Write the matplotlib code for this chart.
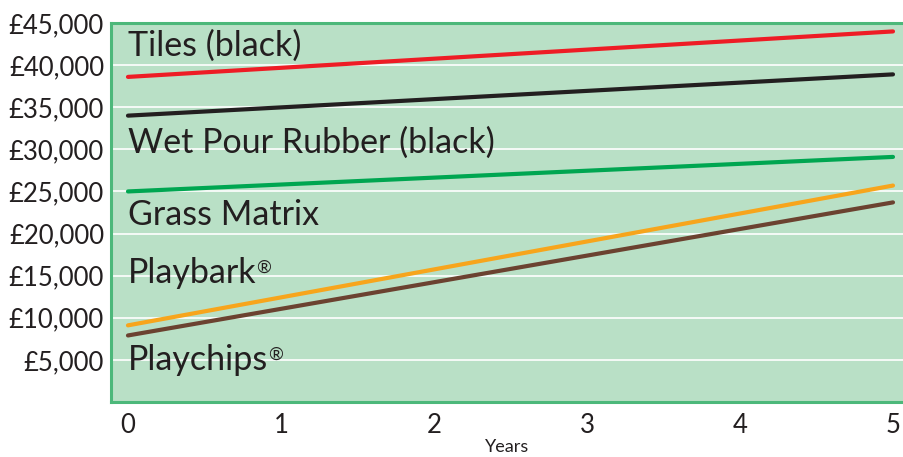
import matplotlib.pyplot as plt
from matplotlib.ticker import FuncFormatter

years = [0, 5]
tiles = [38600, 44000]
wet_pour = [34000, 38900]
grass = [25000, 29100]
playbark = [9100, 25700]
playchips = [7900, 23700]

names = ['Tiles (black)', 'Wet Pour Rubber (black)', 'Grass Matrix',
         'Playbark', 'Playchips']
registered = [False, False, False, True, True]
label_y = [41100, 29600, 21000, 14100, 3800]
colors = ['#ee1c25', '#231f20', '#00a651', '#f7a51c', '#6b4230']

plt.rcParams['font.family'] = ['Lato', 'DejaVu Sans']

fig = plt.figure(figsize=(9.04, 4.57), dpi=100)
ax = fig.add_axes([111/904, 55/457, 793/904, 379/457])
ax.set_facecolor('#b9e0c6')

for s, c in zip([tiles, wet_pour, grass, playbark, playchips], colors):
    ax.plot(years, s, color=c, lw=3, solid_capstyle='round', zorder=3)

for n, yy, r in zip(names, label_y, registered):
    t = ax.text(0, yy, n, fontsize=24.5, color='#231f20', ha='left', va='baseline')
    if r:
        ax.annotate('\u00ae', xy=(1, 0.92), xycoords=t, fontsize=13,
                    color='#231f20', ha='left', va='top')

ax.set_xlim(-0.111, 5.072)
ax.set_ylim(0, 45000)
ax.set_yticks(range(5000, 45001, 5000))
ax.yaxis.set_major_formatter(FuncFormatter(lambda v, p: '\u00a3{:,.0f}'.format(v)))
ax.set_xticks(range(6))
ax.tick_params(length=0, labelsize=18.5, colors='#231f20', pad=5)
ax.tick_params(axis='x', pad=8)
ax.grid(axis='y', color='white', lw=1.2)
ax.set_axisbelow(True)
for sp in ['left', 'top', 'bottom']:
    ax.spines[sp].set_color('#4cb87a')
    ax.spines[sp].set_linewidth(2.2)
ax.spines['right'].set_visible(False)
ax.set_xlabel('Years', fontsize=13, color='#231f20', labelpad=1)

fig.savefig('out.png', dpi=100)
